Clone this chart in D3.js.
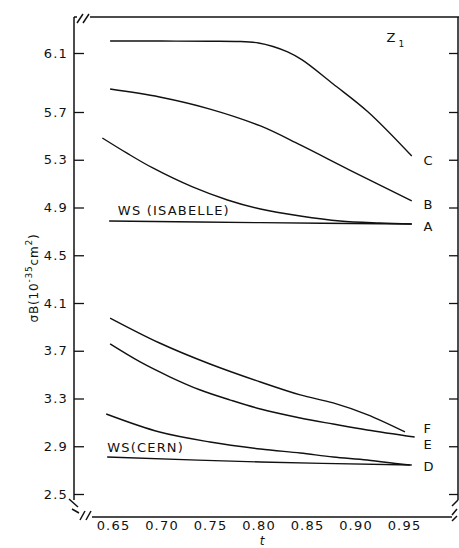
<!DOCTYPE html>
<html>
<head>
<meta charset="utf-8">
<script src="https://cdn.jsdelivr.net/npm/d3@7/dist/d3.min.js"></script>
<style>
  html, body { margin: 0; padding: 0; background: #fff; }
  svg { display: block; }
  text { font-family: "DejaVu Sans", sans-serif; fill: #111; }
</style>
</head>
<body>
<svg id="chart" width="459" height="548"></svg>
<script>
// data: [t, sigma*B]
const curveC = [[0.647, 6.181], [0.70, 6.181], [0.75, 6.18], [0.78, 6.178], [0.80, 6.168], [0.815, 6.144], [0.83, 6.107], [0.845, 6.053], [0.877, 5.890], [0.913, 5.700], [0.958, 5.331]];
const curveB = [[0.647, 5.856], [0.698, 5.802], [0.75, 5.720], [0.802, 5.583], [0.843, 5.424], [0.894, 5.214], [0.958, 4.955]];
const curveA = [[0.639, 5.482], [0.664, 5.357], [0.691, 5.231], [0.732, 5.072], [0.768, 4.963], [0.802, 4.887], [0.843, 4.829], [0.884, 4.787], [0.925, 4.770], [0.958, 4.762]];
const wsIsabelle = [[0.646, 4.787], [0.802, 4.773], [0.958, 4.762]];
const curveF = [[0.647, 3.974], [0.698, 3.765], [0.75, 3.589], [0.802, 3.438], [0.843, 3.330], [0.877, 3.263], [0.912, 3.165], [0.951, 3.020]];
const curveE = [[0.647, 3.757], [0.678, 3.606], [0.709, 3.480], [0.740, 3.371], [0.771, 3.287], [0.802, 3.212], [0.843, 3.137], [0.877, 3.086], [0.912, 3.036], [0.961, 2.977]];
const curveD = [[0.643, 3.170], [0.698, 3.019], [0.75, 2.936], [0.802, 2.877], [0.843, 2.843], [0.877, 2.810], [0.912, 2.785], [0.946, 2.751], [0.956, 2.743]];
const wsCern = [[0.644, 2.810], [0.802, 2.768], [0.958, 2.743]];

const xTicks = [0.65, 0.70, 0.75, 0.80, 0.85, 0.90, 0.95];
const yTicks = [2.5, 2.9, 3.3, 3.7, 4.1, 4.5, 4.9, 5.3, 5.7, 6.1];

const curveNames = ["C", "B", "A", "F", "E", "D"];
const curveLabelY = [5.298, 4.929, 4.745, 3.053, 2.919, 2.735];

const svg = d3.select("#chart");

// frame edges in px
const frameL = 74, frameR = 458, frameT = 17, frameB = 517;

const x = d3.scaleLinear().domain([0.65, 0.95]).range([113, 404]);
// the original axis is hand drawn, top interval is stretched
const y = d3.scaleLinear().domain([2.5, 5.7, 6.1]).range([494, 112, 53]);

const ink = "#111";

// left axis
svg.append("g")
    .attr("transform", `translate(${frameL},0)`)
    .call(d3.axisLeft(y).tickValues(yTicks).tickSizeInner(-10).tickSizeOuter(0).tickPadding(6)
        .tickFormat(d3.format(".1f")))
    .call(g => g.select(".domain").remove())
    .call(g => g.selectAll("line").attr("stroke", ink).attr("stroke-width", 1.3))
    .call(g => g.selectAll("text").attr("font-size", 13).attr("letter-spacing", "1.2px")
        .attr("font-family", "DejaVu Sans").attr("fill", ink));

// right axis, ticks only
svg.append("g")
    .attr("transform", `translate(${frameR},0)`)
    .call(d3.axisRight(y).tickValues(yTicks).tickSizeInner(-9).tickSizeOuter(0).tickFormat(""))
    .call(g => g.select(".domain").remove())
    .call(g => g.selectAll("line").attr("stroke", ink).attr("stroke-width", 1.3));

// bottom labels, no ticks
svg.append("g")
    .attr("transform", `translate(0,${frameB})`)
    .call(d3.axisBottom(x).tickValues(xTicks).tickSize(0).tickPadding(4).tickFormat(d3.format(".2f")))
    .call(g => g.select(".domain").remove())
    .call(g => g.selectAll("text").attr("font-size", 13).attr("letter-spacing", "1.2px")
        .attr("font-family", "DejaVu Sans").attr("fill", ink));

// frame lines with break marks
const frame = svg.append("g").attr("fill", "none").attr("stroke", ink).attr("stroke-width", 1.5);
frame.append("line").attr("x1", frameL).attr("y1", frameT).attr("x2", frameL).attr("y2", 500);
frame.append("line").attr("x1", 90).attr("y1", frameT).attr("x2", 459).attr("y2", frameT);
frame.append("line").attr("x1", 92).attr("y1", frameB).attr("x2", 452).attr("y2", frameB);
frame.append("line").attr("x1", frameR).attr("y1", frameT).attr("x2", frameR).attr("y2", 500);
// top-left break
frame.append("path").attr("d", `M${frameL},${frameT}L77,${frameT}M77,23L83,14M83,23L89,14`);
// bottom-left break
frame.append("path").attr("d", "M69,499L78,507M72,509L79,513M80,520L85,511M86,520L91,511");
// bottom-right break
frame.append("path").attr("d", "M458,500L452,506M457,509L452,515M457,516L452,521");

// curves
const line = d3.line().x(d => x(d[0])).y(d => y(d[1])).curve(d3.curveCatmullRom.alpha(0.5));
const allCurves = [curveC, curveB, curveA, wsIsabelle, curveF, curveE, curveD, wsCern];
svg.append("g")
    .selectAll("path")
    .data(allCurves)
    .enter()
    .append("path")
    .attr("d", line)
    .attr("fill", "none")
    .attr("stroke", ink)
    .attr("stroke-width", 1.4);

// curve letters
svg.append("g")
    .selectAll("text")
    .data(curveNames)
    .enter()
    .append("text")
    .text(d => d)
    .attr("x", x(0.970))
    .attr("y", (d, i) => y(curveLabelY[i]))
    .attr("dy", "0.36em")
    .attr("font-size", 13);

svg.append("text")
    .attr("x", x(0.655)).attr("y", y(4.879)).attr("dy", "0.36em")
    .attr("font-size", 13).attr("letter-spacing", "1.2px")
    .text("WS (ISABELLE)");

svg.append("text")
    .attr("x", x(0.644)).attr("y", y(2.894)).attr("dy", "0.36em")
    .attr("font-size", 13).attr("letter-spacing", "1.2px")
    .text("WS(CERN)");

// Z1 tag
const z = svg.append("text").attr("x", x(0.932)).attr("y", 42).attr("font-size", 13);
z.append("tspan").text("Z");
z.append("tspan").attr("dx", 3).attr("dy", 5).attr("font-size", 9).text("1");

// axis titles
svg.append("text")
    .attr("x", 262).attr("y", 545)
    .attr("text-anchor", "middle")
    .attr("font-family", "DejaVu Serif")
    .attr("font-style", "italic")
    .attr("font-size", 12)
    .text("t");

const yt = svg.append("text")
    .attr("transform", "translate(38,278) rotate(-90)")
    .attr("text-anchor", "middle")
    .attr("font-size", 12)
    .attr("letter-spacing", "0.8px");
yt.append("tspan").text("\u03c3B(10");
yt.append("tspan").attr("dy", -6).attr("font-size", 9).text("-35");
yt.append("tspan").attr("dy", 6).text("cm");
yt.append("tspan").attr("dy", -6).attr("font-size", 9).text("2");
yt.append("tspan").attr("dy", 6).text(")");
</script>
</body>
</html>
